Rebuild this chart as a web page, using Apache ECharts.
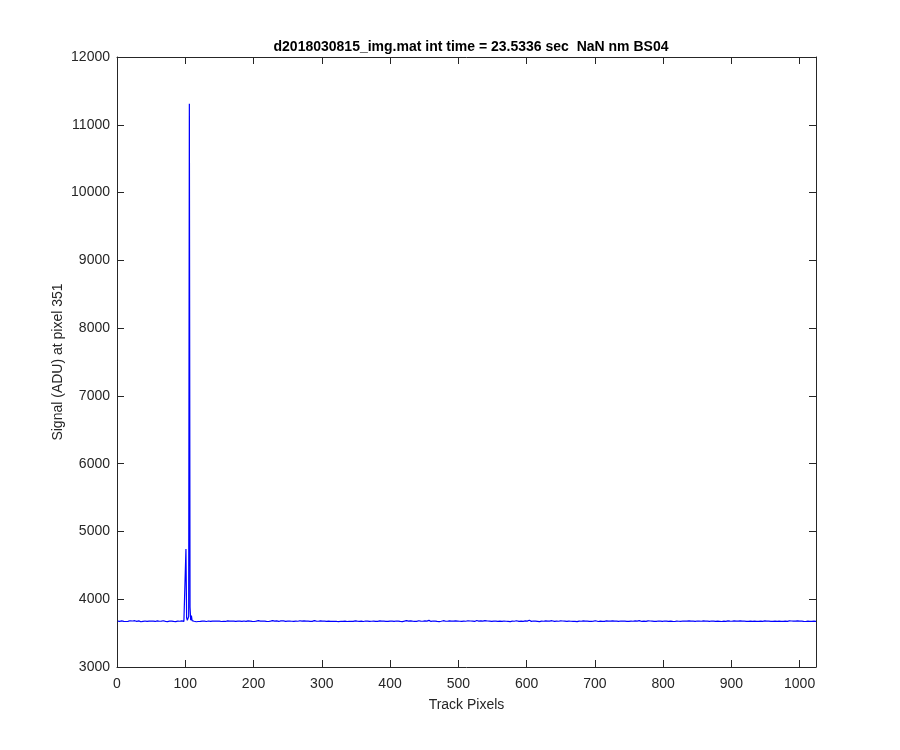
<!DOCTYPE html>
<html>
<head>
<meta charset="utf-8">
<script src="https://cdn.jsdelivr.net/npm/echarts@6/dist/echarts.min.js"></script>
<style>html,body{margin:0;padding:0;background:#fff}#c{width:900px;height:750px}</style>
</head>
<body>
<div id="c"></div>
<script>
const titleText = 'd2018030815_img.mat int time = 23.5336 sec  NaN nm BS04';
const xLabel = 'Track Pixels';
const yLabel = 'Signal (ADU) at pixel 351';
const xMin = 0, xMax = 1024, xStep = 100;
const yMin = 3000, yMax = 12000, yStep = 1000;
// signal per track pixel (pixel 1 .. 1024)
const signal = [
3676,3672,3679,3674,3670,3677,3681,3675,3668,3673,3678,3674,3671,3680,3676,3673,
3669,3675,3682,3677,3672,3674,3679,3671,3676,3683,3678,3670,3673,3677,3674,3680,
3675,3671,3668,3676,3681,3674,3677,3672,3679,3675,3670,3673,3678,3684,3676,3671,
3674,3679,3673,3669,3676,3680,3675,3672,3677,3674,3681,3676,3670,3675,3679,3673,
3677,3672,3675,3682,3678,3671,3674,3679,3676,3669,3673,3680,3677,3674,3671,3676,
3681,3675,3672,3678,3674,3670,3677,3683,3676,3673,3679,3675,3671,3676,3680,3674,
3677,3673,3680,3702,4740,3725,3688,3698,3745,11310,3880,3692,3758,3684,3674,3670,
3675,3679,3672,3668,3674,3677,3671,3676,3681,3673,3670,3675,3678,3672,3669,3676,
3680,3674,3671,3677,3673,3679,3684,3676,3672,3675,3670,3678,3674,3681,3677,3673,
3670,3676,3679,3674,3672,3677,3683,3675,3671,3674,3678,3673,3676,3680,3672,3669,
3675,3681,3677,3673,3676,3671,3674,3679,3675,3670,3677,3682,3678,3673,3675,3671,
3678,3674,3669,3676,3680,3675,3672,3677,3673,3679,3686,3678,3674,3671,3676,3680,
3674,3670,3677,3681,3676,3673,3678,3674,3671,3675,3680,3676,3672,3677,3683,3679,
3673,3676,3671,3675,3679,3674,3670,3677,3682,3676,3673,3678,3675,3671,3674,3680,
3676,3672,3679,3685,3677,3673,3676,3671,3675,3680,3674,3677,3672,3669,3676,3681,
3677,3673,3675,3680,3676,3671,3674,3678,3683,3677,3673,3676,3679,3674,3670,3675,
3681,3676,3672,3678,3674,3677,3673,3679,3675,3671,3676,3682,3678,3674,3677,3672,
3675,3680,3676,3672,3677,3674,3670,3676,3681,3677,3673,3675,3679,3674,3671,3677,
3684,3678,3673,3676,3672,3679,3675,3671,3677,3680,3676,3673,3678,3674,3670,3676,
3679,3675,3672,3677,3681,3676,3673,3678,3674,3687,3679,3674,3676,3671,3675,3680,
3676,3672,3677,3674,3670,3676,3680,3675,3672,3678,3674,3679,3683,3677,3673,3675,
3671,3676,3680,3675,3672,3677,3674,3679,3676,3672,3668,3675,3680,3677,3673,3676,
3682,3677,3674,3678,3673,3676,3680,3675,3671,3677,3674,3679,3676,3672,3678,3685,
3678,3673,3676,3671,3675,3679,3674,3677,3681,3676,3672,3675,3679,3674,3670,3677,
3680,3676,3673,3678,3674,3670,3676,3681,3677,3674,3679,3675,3672,3677,3683,3678,
3674,3671,3676,3680,3675,3672,3678,3674,3679,3676,3672,3677,3681,3676,3673,3678,
3674,3670,3675,3679,3676,3673,3678,3684,3677,3673,3676,3672,3677,3680,3675,3671,
3676,3681,3677,3673,3675,3679,3674,3671,3676,3682,3678,3674,3677,3673,3679,3675,
3671,3676,3680,3676,3673,3677,3674,3679,3688,3680,3675,3672,3677,3674,3679,3676,
3672,3677,3681,3676,3673,3678,3674,3670,3676,3680,3675,3672,3677,3683,3678,3674,
3677,3673,3679,3675,3671,3676,3680,3677,3673,3678,3674,3679,3676,3672,3675,3681,
3676,3673,3678,3674,3670,3675,3679,3676,3672,3677,3681,3676,3673,3679,3675,3671,
3676,3682,3678,3673,3675,3679,3674,3671,3677,3680,3676,3672,3674,3678,3686,3679,
3674,3677,3673,3676,3680,3675,3671,3677,3674,3678,3683,3677,3673,3675,3679,3674,
3670,3676,3680,3676,3673,3677,3674,3678,3675,3671,3676,3681,3677,3674,3678,3673,
3676,3680,3675,3672,3677,3673,3679,3676,3672,3675,3680,3677,3673,3678,3674,3670,
3676,3681,3677,3674,3679,3675,3672,3677,3683,3678,3674,3676,3672,3677,3681,3676,
3673,3678,3674,3671,3676,3680,3676,3673,3677,3674,3679,3689,3681,3676,3673,3677,
3674,3679,3675,3671,3676,3680,3677,3673,3678,3674,3670,3676,3681,3677,3674,3678,
3675,3672,3677,3681,3676,3673,3678,3674,3679,3676,3672,3677,3683,3678,3674,3676,
3672,3677,3680,3676,3673,3678,3675,3671,3676,3680,3677,3674,3679,3675,3672,3677,
3681,3677,3673,3676,3672,3678,3684,3679,3675,3672,3677,3674,3679,3676,3673,3678,
3674,3670,3676,3681,3677,3674,3678,3675,3671,3676,3680,3677,3673,3678,3674,3679,
3676,3672,3677,3674,3679,3676,3672,3675,3680,3676,3673,3677,3682,3678,3674,3676,
3671,3676,3680,3677,3673,3678,3674,3679,3676,3672,3677,3687,3680,3675,3672,3677,
3674,3679,3676,3672,3676,3681,3677,3673,3678,3675,3671,3676,3680,3676,3673,3678,
3674,3679,3676,3672,3677,3674,3670,3676,3681,3677,3674,3679,3675,3672,3677,3680,
3676,3673,3678,3675,3671,3676,3680,3676,3673,3678,3674,3679,3684,3678,3674,3676,
3672,3677,3681,3676,3673,3678,3674,3671,3676,3680,3677,3673,3679,3675,3672,3677,
3681,3677,3674,3679,3675,3672,3677,3674,3679,3676,3672,3676,3681,3677,3673,3678,
3674,3679,3676,3672,3677,3682,3678,3674,3676,3672,3677,3680,3676,3673,3678,3675,
3671,3676,3680,3677,3673,3679,3675,3672,3677,3674,3679,3685,3679,3675,3672,3677,
3674,3679,3676,3672,3676,3681,3677,3673,3678,3674,3670,3676,3680,3677,3673,3678,
3674,3679,3676,3672,3677,3673,3679,3675,3671,3676,3681,3677,3674,3678,3675,3671,
3676,3680,3676,3673,3678,3674,3679,3676,3672,3677,3682,3677,3673,3676,3672,3677,
3681,3677,3674,3679,3675,3671,3676,3680,3677,3673,3678,3674,3679,3686,3680,3675,
3672,3677,3674,3678,3675,3671,3676,3681,3677,3673,3678,3674,3679,3676,3672,3676,
3680,3676,3673,3678,3674,3670,3676,3681,3677,3674,3679,3675,3672,3677,3683,3678,
3674,3676,3672,3677,3681,3676,3673,3678,3674,3679,3676,3672,3675,3680,3677,3673,
3678,3674,3670,3676,3680,3677,3673,3678,3675,3671,3676,3681,3677,3674,3679,3675,
3672,3677,3683,3678,3674,3676,3672,3677,3680,3676,3673,3678,3674,3679,3676,3672,
3676,3681,3677,3673,3678,3674,3670,3676,3680,3677,3674,3679,3675,3672,3677,3674,
3679,3676,3672,3677,3681,3676,3673,3678,3674,3671,3676,3680,3677,3673,3678,3675,
3671,3676,3680,3676,3673,3678,3674,3679,3676,3672,3677,3681,3677,3674,3676,3673
];

const seriesData = signal.map((v, i) => [i + 1, v]);
const FONT = 'Liberation Sans, Arial, Helvetica, sans-serif';
const AX = '#262626';
const FS = 14;

const chart = echarts.init(document.getElementById('c'), null, {renderer: 'canvas'});
const axisBase = {
  type: 'value',
  axisLine: {show: true, onZero: false, lineStyle: {color: AX, width: 1}},
  axisTick: {show: true, inside: true, length: 7, lineStyle: {color: AX, width: 1}},
  splitLine: {show: false}
};
chart.setOption({
  animation: false,
  backgroundColor: '#fff',
  title: {
    text: titleText,
    left: 466, textAlign: 'center', top: 35,
    textStyle: {fontFamily: FONT, fontSize: FS, fontWeight: 'bold', color: '#000'}
  },
  grid: {left: 117, right: 84, top: 57, bottom: 83, containLabel: false},
  xAxis: [
    Object.assign({}, axisBase, {
      position: 'bottom', min: xMin, max: xMax, interval: xStep,
      axisLabel: {show: true, margin: 10, color: AX, fontFamily: FONT, fontSize: FS,
        formatter: v => (v % xStep === 0 ? String(v) : '')},
      name: xLabel, nameLocation: 'middle', nameGap: 31, nameMoveOverlap: false,
      nameTextStyle: {fontFamily: FONT, fontSize: FS, color: AX}
    }),
    Object.assign({}, axisBase, {
      position: 'top', min: xMin, max: xMax, interval: xStep,
      axisLabel: {show: false}
    })
  ],
  yAxis: [
    Object.assign({}, axisBase, {
      position: 'left', min: yMin, max: yMax, interval: yStep,
      axisLabel: {show: true, margin: 7, color: AX, fontFamily: FONT, fontSize: FS,
        formatter: v => String(v)},
      name: yLabel, nameLocation: 'middle', nameGap: 52, nameRotate: 90, nameMoveOverlap: false,
      nameTextStyle: {fontFamily: FONT, fontSize: FS, color: AX}
    }),
    Object.assign({}, axisBase, {
      position: 'right', min: yMin, max: yMax, interval: yStep,
      axisLabel: {show: false}
    })
  ],
  series: [{
    type: 'line',
    data: seriesData,
    xAxisIndex: 0, yAxisIndex: 0,
    showSymbol: false, symbol: 'none',
    lineStyle: {color: '#0000ff', width: 1.2},
    silent: true
  }]
});
</script>
</body>
</html>
